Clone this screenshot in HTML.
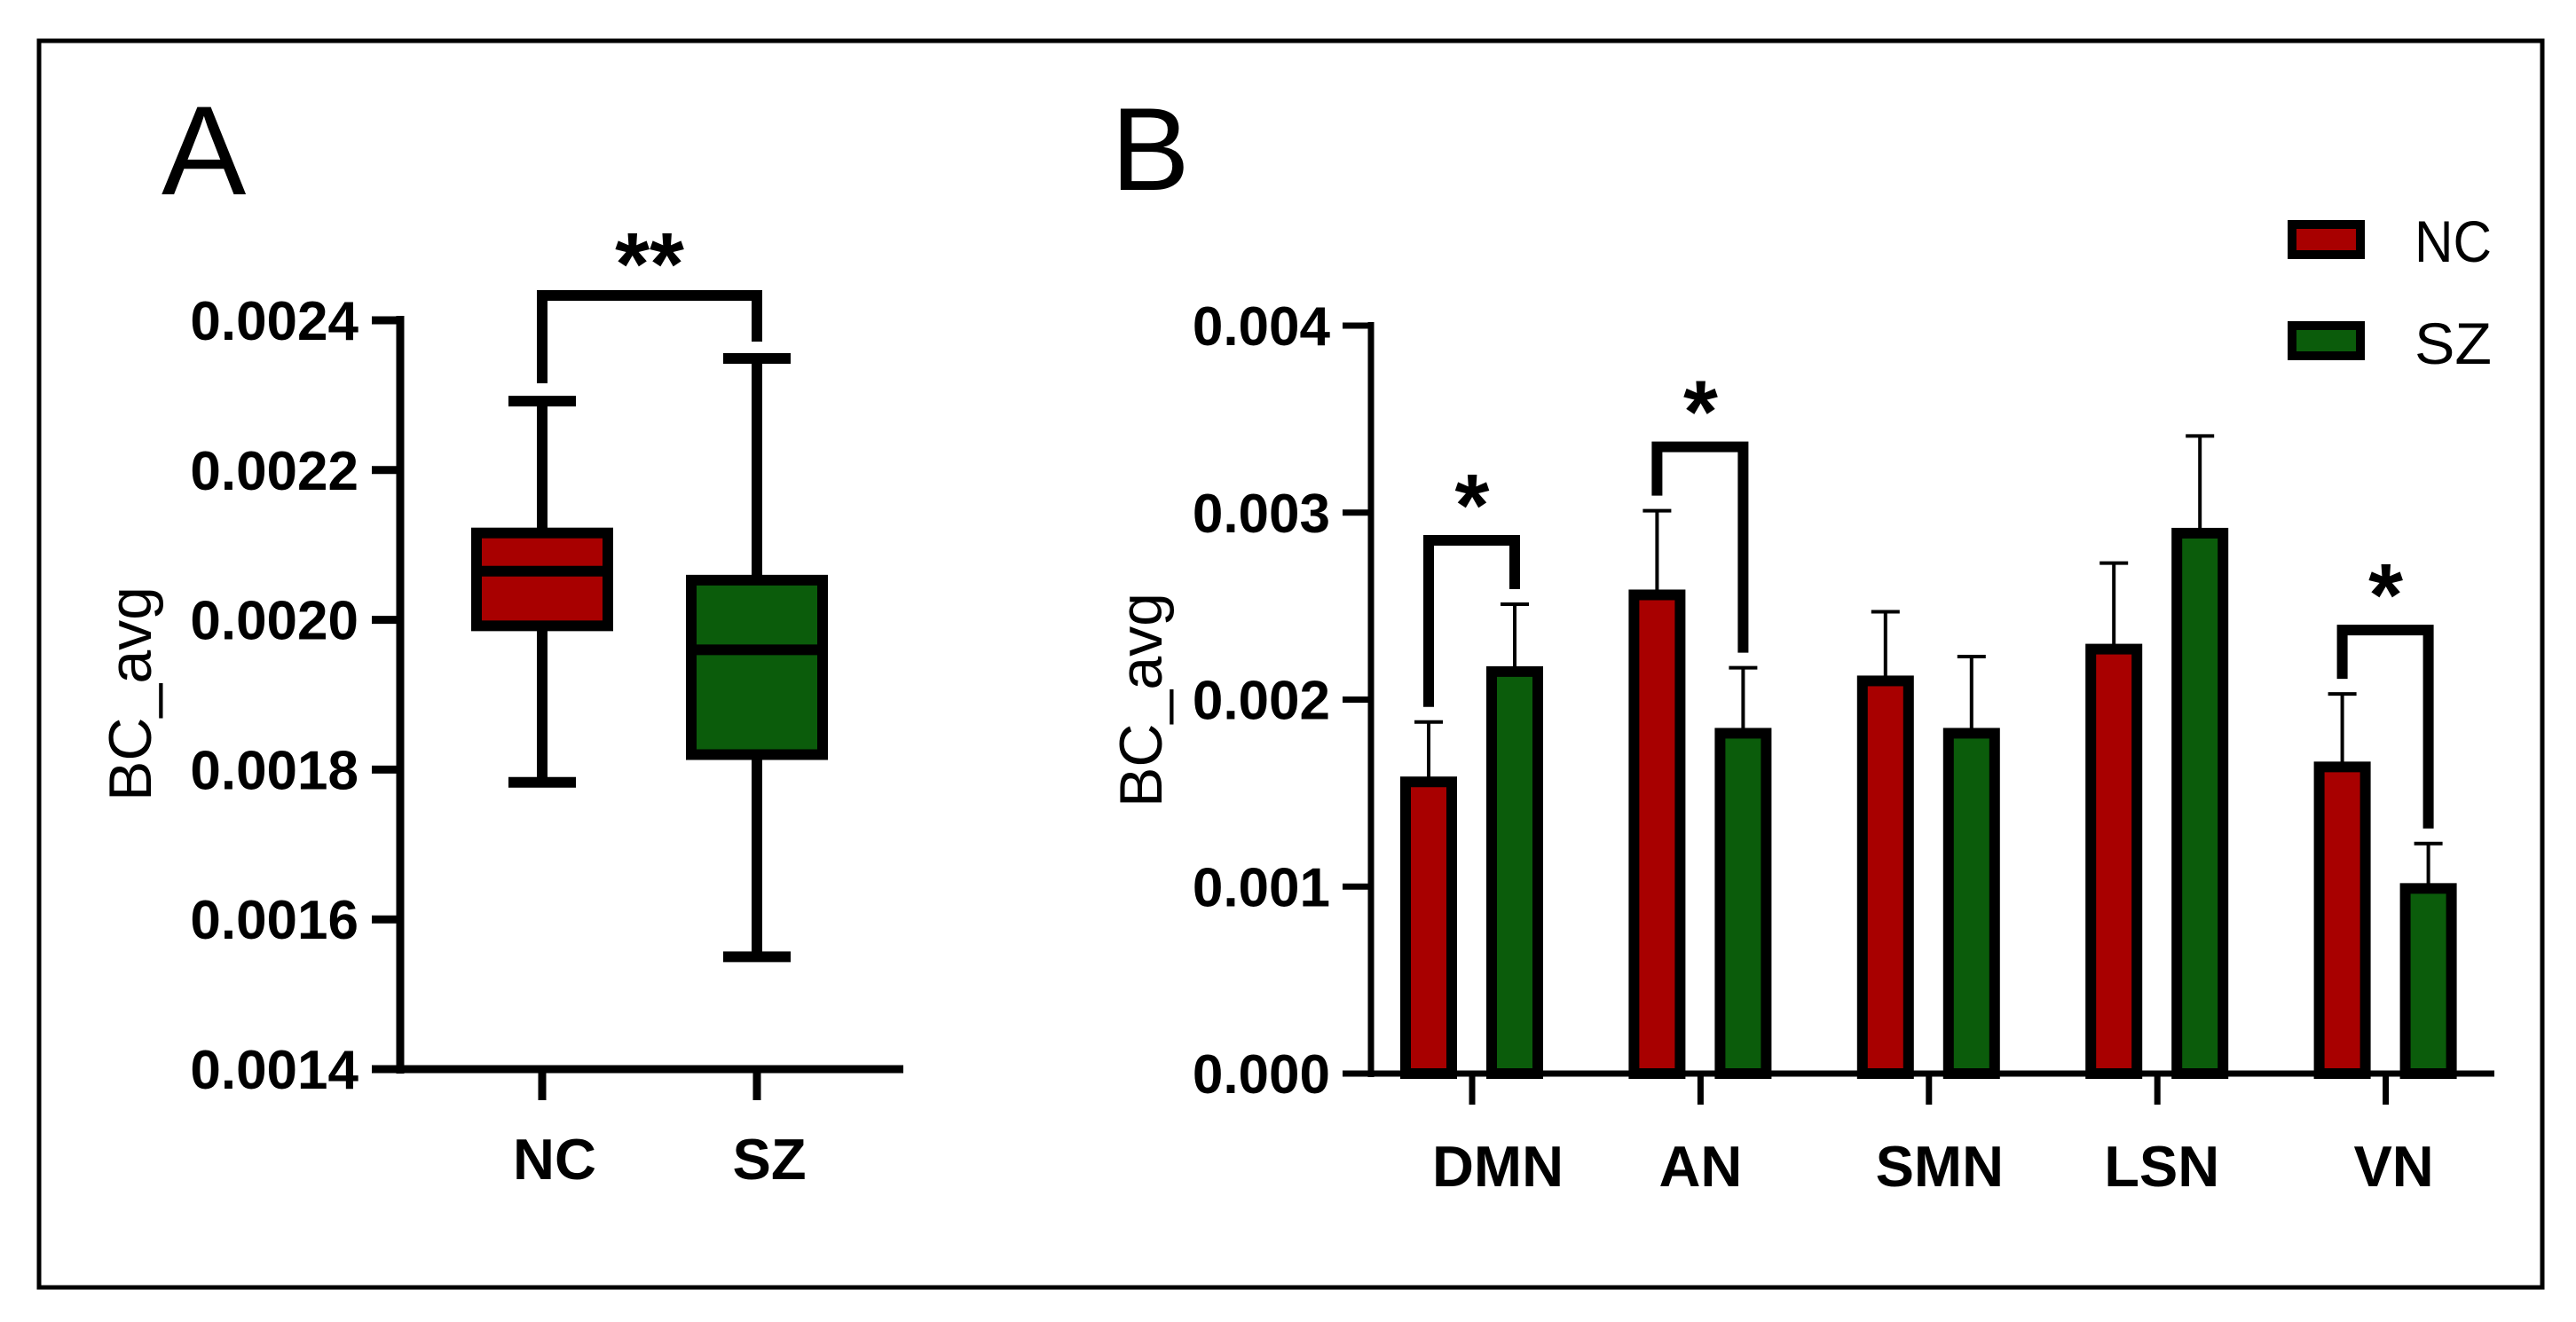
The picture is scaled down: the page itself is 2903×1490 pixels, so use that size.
<!DOCTYPE html>
<html><head><meta charset="utf-8"><style>
html,body{margin:0;padding:0;background:#fff;}
svg{display:block;}
text{font-family:"Liberation Sans",Arial,sans-serif;fill:#000;}
</style></head><body>
<svg id="fig" width="2903" height="1490" viewBox="0 0 2903 1490" xmlns="http://www.w3.org/2000/svg">
<rect x="44" y="46" width="2821" height="1405" fill="none" stroke="#000" stroke-width="5"/>
<text x="182" y="219" font-size="143">A</text>
<text x="1252" y="214" font-size="133">B</text>
<g id="pa"></g>
<g id="pb"></g>
</svg>
<script>
// Panel A data
const groupsA = ["NC", "SZ"];
const whiskerLowA = [0.001783, 0.00155];
const q1A = [0.001992, 0.00182];
const medianA = [0.002065, 0.00196];
const q3A = [0.002116, 0.002053];
const whiskerHighA = [0.002292, 0.002349];
const ticksA = [0.0014, 0.0016, 0.0018, 0.0020, 0.0022, 0.0024];
const tickLabelsA = ["0.0014", "0.0016", "0.0018", "0.0020", "0.0022", "0.0024"];
// Panel B data
const categoriesB = ["DMN", "AN", "SMN", "LSN", "VN"];
const ncMeans = [0.00156, 0.00256, 0.0021, 0.00227, 0.00164];
const ncErr = [0.00032, 0.00045, 0.00037, 0.00046, 0.00039];
const szMeans = [0.00215, 0.00182, 0.00182, 0.00289, 0.00099];
const szErr = [0.00036, 0.00035, 0.00041, 0.00052, 0.00024];
const ticksB = [0, 0.001, 0.002, 0.003, 0.004];
const tickLabelsB = ["0.000", "0.001", "0.002", "0.003", "0.004"];
const sigPairs = [0, 1, 4];

const NS = "http://www.w3.org/2000/svg";
function mk(parent, tag, attrs, txt) {
  const e = document.createElementNS(NS, tag);
  for (const k in attrs) e.setAttribute(k, attrs[k]);
  if (txt !== undefined) e.textContent = txt;
  parent.appendChild(e);
  return e;
}
const RED = "#a80000", GREEN = "#0b5c0b";

// ---------- Panel A ----------
const pa = document.getElementById("pa");
const yA = v => 1205 - (v - 0.0014) / 0.001 * (1205 - 361);
const xA = i => [611, 853][i];
let e;
e = mk(pa, "line", {x1: 451, y1: 356, x2: 451, y2: 1210, stroke: "#000", "stroke-width": 9});


e = mk(pa, "line", {x1: 447, y1: 1205, x2: 1018, y2: 1205, stroke: "#000", "stroke-width": 9});


ticksA.forEach((t, i) => {
  const y = yA(t);
  const l = mk(pa, "line", {x1: 419, y1: y, x2: 451, y2: y, stroke: "#000", "stroke-width": 9});
  
  
  const tx = mk(pa, "text", {x: 404, y: y + 22, "font-size": 62, "font-weight": "bold", "text-anchor": "end"}, tickLabelsA[i]);
  
  
});
e = mk(pa, "text", {transform: "translate(170,782) rotate(-90)", "font-size": 68, "text-anchor": "middle"}, "BC_avg");


groupsA.forEach((g, i) => {
  const x = xA(i), col = i === 0 ? RED : GREEN;
  const t = mk(pa, "line", {x1: x, y1: 1205, x2: x, y2: 1240, stroke: "#000", "stroke-width": 9});
  
  
  const lb = mk(pa, "text", {x: x + 14, y: 1329, "font-size": 65, "font-weight": "bold", "text-anchor": "middle"}, g);
  
  
  const w = mk(pa, "line", {x1: x, y1: yA(whiskerLowA[i]), x2: x, y2: yA(whiskerHighA[i]), stroke: "#000", "stroke-width": 12});
  
  
  [whiskerLowA[i], whiskerHighA[i]].forEach(v => {
    const c = mk(pa, "line", {x1: x - 38, y1: yA(v), x2: x + 38, y2: yA(v), stroke: "#000", "stroke-width": 12});
    
    
  });
  const b = mk(pa, "rect", {x: x - 74, y: yA(q3A[i]), width: 148, height: yA(q1A[i]) - yA(q3A[i]), fill: col, stroke: "#000", "stroke-width": 12});
  
  
  const m = mk(pa, "line", {x1: x - 74, y1: yA(medianA[i]), x2: x + 74, y2: yA(medianA[i]), stroke: "#000", "stroke-width": 12});
  
  
});
e = mk(pa, "polyline", {points: `${xA(0)},432 ${xA(0)},333 ${xA(1)},333 ${xA(1)},385`, fill: "none", stroke: "#000", "stroke-width": 12});


e = mk(pa, "text", {x: 732, y: 332, "font-size": 100, "font-weight": "bold", "text-anchor": "middle"}, "**");



// ---------- Panel B ----------
const pb = document.getElementById("pb");
const yB = v => 1210 - v / 0.004 * (1210 - 367);
const xB = i => 1659 + i * 257.4;
e = mk(pb, "line", {x1: 1545, y1: 363, x2: 1545, y2: 1214, stroke: "#000", "stroke-width": 7});


e = mk(pb, "line", {x1: 1541, y1: 1210, x2: 2811, y2: 1210, stroke: "#000", "stroke-width": 7});


ticksB.forEach((t, i) => {
  const y = yB(t);
  const l = mk(pb, "line", {x1: 1513, y1: y, x2: 1545, y2: y, stroke: "#000", "stroke-width": 7});
  
  
  const tx = mk(pb, "text", {x: 1499, y: y + 22, "font-size": 62, "font-weight": "bold", "text-anchor": "end"}, tickLabelsB[i]);
  
  
});
e = mk(pb, "text", {transform: "translate(1309,789) rotate(-90)", "font-size": 68, "text-anchor": "middle"}, "BC_avg");


const labelShift = [29, 0, 12, 5, 9];
function bar(cx, v, err, col, name) {
  const r = mk(pb, "rect", {x: cx - 26, y: yB(v), width: 52, height: 1210 - yB(v), fill: col, stroke: "#000", "stroke-width": 12});
  
  
  const el = mk(pb, "line", {x1: cx, y1: yB(v), x2: cx, y2: yB(v + err), stroke: "#000", "stroke-width": 4});
  
  
  const ec = mk(pb, "line", {x1: cx - 16, y1: yB(v + err), x2: cx + 16, y2: yB(v + err), stroke: "#000", "stroke-width": 4});
  
  
}
categoriesB.forEach((c, i) => {
  const x = xB(i);
  const t = mk(pb, "line", {x1: x, y1: 1210, x2: x, y2: 1245, stroke: "#000", "stroke-width": 7});
  
  
  const lb = mk(pb, "text", {x: x + labelShift[i], y: 1337, "font-size": 65, "font-weight": "bold", "text-anchor": "middle"}, c);
  
  
  bar(x - 49, ncMeans[i], ncErr[i], RED, 'bar-nc-' + c.toLowerCase());
  bar(x + 48, szMeans[i], szErr[i], GREEN, 'bar-sz-' + c.toLowerCase());
});
sigPairs.forEach(i => {
  const x = xB(i), xl = x - 49, xr = x + 48;
  const yl = yB(ncMeans[i] + ncErr[i]) - 17, yr = yB(szMeans[i] + szErr[i]) - 17;
  const top = Math.min(yl, yr) - 55;
  const p = mk(pb, "polyline", {points: `${xl},${yl} ${xl},${top} ${xr},${top} ${xr},${yr}`, fill: "none", stroke: "#000", "stroke-width": 12});
  
  
  const s = mk(pb, "text", {x: x, y: top - 5, "font-size": 100, "font-weight": "bold", "text-anchor": "middle"}, "*");
  
  
});
// legend
[["NC", RED, 248, 295], ["SZ", GREEN, 362, 410]].forEach(([n, col, y, by]) => {
  const r = mk(pb, "rect", {x: 2583, y: y + 5, width: 77, height: 34, fill: col, stroke: "#000", "stroke-width": 10});
  
  
  const t = mk(pb, "text", {x: 2721, y: by, "font-size": 66, textLength: 87, lengthAdjust: "spacingAndGlyphs"}, n);
  
  
});
</script>
</body></html>
